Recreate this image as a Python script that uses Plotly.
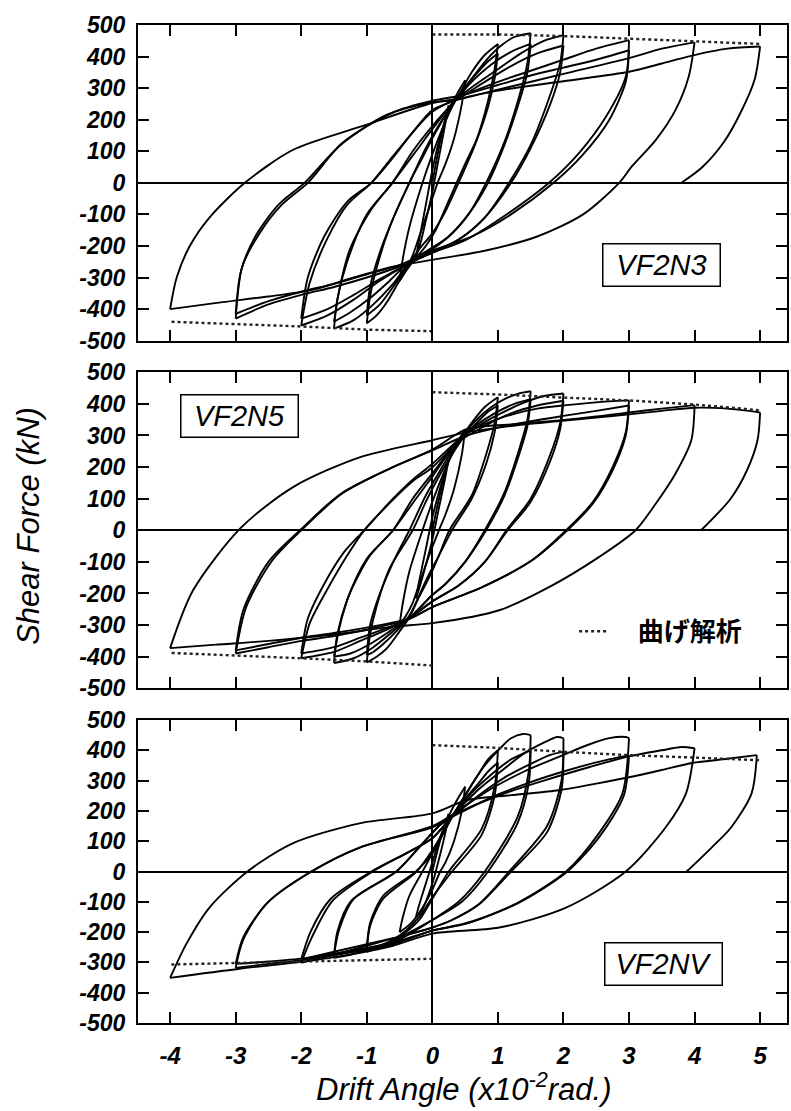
import plotly.graph_objects as go

# ---------------- axis ticks ----------------
X_TICKS = [-4, -3, -2, -1, 0, 1, 2, 3, 4, 5]
X_TICK_LABELS = ["-4", "-3", "-2", "-1", "0", "1", "2", "3", "4", "5"]
Y_TICKS = [500, 400, 300, 200, 100, 0, -100, -200, -300, -400, -500]
Y_TICK_LABELS = ["500", "400", "300", "200", "100", "0", "-100", "-200", "-300", "-400", "-500"]

SPECIMENS = ["VF2N3", "VF2N5", "VF2NV"]
LEGEND_LABEL = "曲げ解析"

# ---------------- VF2N3 : measured hysteresis (drift, shear), branches split by None ----------------
VF2N3_LOOP = [
    (0, 0), (0.08, 90), (0.17, 180), (0.25, 245), None,
    (0.25, 245), (0.2, 190), (0.1, 80), (0, -30), (-0.1, -120), (-0.18, -190), (-0.25, -235), None,
    (-0.25, -235), (-0.2, -180), (-0.1, -70), (0, 40), (0.1, 130), (0.2, 200), (0.3, 250), (0.4, 290), (0.5, 325), None,
    (0.5, 325), (0.45, 250), (0.33, 140), (0.2, 60), (0.08, 0), (-0.05, -80), (-0.2, -170), (-0.3, -230), (-0.4, -275), (-0.5, -310), None,
    (-0.5, -310), (-0.45, -240), (-0.35, -140), (-0.15, 0), (0, 90), (0.15, 170), (0.3, 240), (0.45, 295), (0.6, 350), (0.8, 405), (1.0, 440), None,
    (1.0, 440), (0.95, 360), (0.85, 260), (0.68, 140), (0.5, 60), (0.37, 0), (0.2, -80), (0.05, -150), (-0.1, -200), (-0.3, -250), (-0.5, -310), (-0.7, -380), (-0.85, -420), (-1.0, -445), None,
    (-1.0, -445), (-0.95, -360), (-0.85, -270), (-0.65, -140), (-0.35, 0), (-0.15, 80), (0.05, 160), (0.25, 230), (0.45, 290), (0.65, 340), (0.85, 385), (1.0, 410), None,
    (1.0, 410), (0.95, 330), (0.85, 240), (0.65, 120), (0.4, 0), (0.2, -90), (0, -160), (-0.2, -210), (-0.4, -270), (-0.6, -330), (-0.8, -385), (-1.0, -420), None,
    (-1.0, -420), (-0.95, -330), (-0.8, -220), (-0.55, -90), (-0.35, 0), (-0.1, 110), (0.15, 200), (0.35, 262), (0.6, 330), (0.85, 395), (1.05, 435), (1.25, 462), (1.5, 474), None,
    (1.5, 474), (1.45, 380), (1.32, 270), (1.1, 130), (0.82, 0), (0.55, -100), (0.25, -170), (0, -210), (-0.35, -255), (-0.6, -320), (-0.9, -385), (-1.2, -435), (-1.5, -462), None,
    (-1.5, -462), (-1.45, -370), (-1.3, -250), (-1.0, -100), (-0.61, 0), (-0.3, 100), (0, 180), (0.35, 262), (0.6, 320), (0.9, 375), (1.2, 415), (1.5, 440), None,
    (1.5, 440), (1.45, 350), (1.3, 240), (1.1, 120), (0.85, 0), (0.55, -100), (0.25, -170), (0, -205), (-0.35, -250), (-0.65, -310), (-0.95, -365), (-1.25, -410), (-1.5, -440), None,
    (-1.5, -440), (-1.42, -339), (-1.26, -212), (-0.95, -90), (-0.61, 0), (-0.25, 100), (0, 170), (0.35, 262), (0.65, 310), (1.0, 360), (1.35, 410), (1.7, 450), (2.0, 468), None,
    (2.0, 468), (1.95, 380), (1.8, 280), (1.5, 120), (1.17, 0), (0.8, -110), (0.4, -180), (0, -220), (-0.35, -255), (-0.8, -310), (-1.2, -370), (-1.6, -420), (-2.0, -452), None,
    (-2.0, -452), (-1.87, -316), (-1.61, -180), (-1.3, -70), (-0.93, 0), (-0.61, 82), (-0.3, 160), (0, 231), (0.35, 262), (0.8, 320), (1.2, 370), (1.6, 410), (2.0, 435), None,
    (2.0, 435), (1.95, 350), (1.8, 250), (1.5, 110), (1.2, 0), (0.8, -110), (0.4, -180), (0, -220), (-0.35, -255), (-0.8, -305), (-1.2, -355), (-1.6, -400), (-2.0, -430), None,
    (-2.0, -430), (-1.9, -300), (-1.65, -170), (-1.3, -60), (-0.93, 0), (-0.6, 80), (-0.3, 160), (0, 225), (0.4, 270), (1.0, 320), (1.5, 355), (2.0, 390), (2.5, 425), (3.0, 452), None,
    (3.0, 452), (2.95, 336), (2.65, 210), (2.24, 95), (1.78, 0), (1.17, -95), (0.52, -180), (0, -222), (-0.5, -265), (-1.0, -300), (-1.5, -330), (-2.0, -355), (-2.5, -385), (-3.0, -430), None,
    (-3.0, -430), (-2.9, -266), (-2.63, -158), (-2.3, -70), (-1.9, 0), (-1.37, 127), (-0.61, 222), (0, 260), (0.4, 275), (1.0, 310), (1.5, 340), (2.0, 365), (2.5, 390), (3.0, 420), None,
    (3.0, 420), (2.95, 320), (2.7, 200), (2.3, 90), (1.85, 0), (1.2, -100), (0.6, -170), (0, -215), (-0.5, -260), (-1.0, -290), (-1.5, -320), (-2.0, -345), (-2.5, -375), (-3.0, -415), None,
    (-3.0, -415), (-2.92, -280), (-2.7, -170), (-2.35, -70), (-1.95, 0), (-1.4, 120), (-0.7, 215), (0, 255), (0.35, 262), (1.0, 295), (2.0, 345), (3.0, 395), (3.5, 425), (4.0, 445), None,
    (4.0, 445), (3.91, 336), (3.71, 231), (3.41, 136), (3.04, 51), (2.85, 0), (2.3, -100), (1.6, -170), (0.8, -215), (0, -244), (-0.6, -266), (-1.2, -300), (-1.83, -339), (-2.5, -360), (-3.2, -378), (-4.0, -400), None,
    (-4.0, -400), (-3.9, -300), (-3.7, -200), (-3.4, -110), (-2.86, 0), (-2.13, 104), (-1.11, 177), (0, 253), (0.35, 265), (1.0, 292), (2.0, 322), (3.0, 352), (3.5, 378), (3.9, 400), (4.5, 425), (5.0, 432), None,
    (5.0, 432), (4.92, 330), (4.72, 230), (4.45, 130), (4.12, 50), (3.8, 0),
]
VF2N3_FLEX_POS = [(0, 470), (1, 470), (2, 465), (3, 457), (4, 450), (5, 440)]
VF2N3_FLEX_NEG = [(0, -470), (-1, -465), (-2, -455), (-3, -447), (-4, -440)]

# ---------------- VF2N5 ----------------
VF2N5_LOOP = [
    (0, 0), (0.08, 80), (0.17, 160), (0.25, 225), None,
    (0.25, 225), (0.2, 170), (0.1, 70), (0, -30), (-0.1, -110), (-0.18, -170), (-0.25, -215), None,
    (-0.25, -215), (-0.2, -160), (-0.1, -60), (0, 40), (0.1, 120), (0.2, 190), (0.3, 245), (0.4, 285), (0.5, 320), None,
    (0.5, 320), (0.45, 240), (0.33, 130), (0.2, 50), (0.1, 0), (-0.05, -80), (-0.2, -170), (-0.3, -230), (-0.4, -270), (-0.5, -300), None,
    (-0.5, -300), (-0.45, -230), (-0.35, -130), (-0.15, 0), (0, 90), (0.15, 170), (0.3, 240), (0.45, 295), (0.6, 340), (0.8, 390), (1.0, 421), None,
    (1.0, 421), (0.95, 340), (0.82, 240), (0.6, 110), (0.26, 0), (0.1, -80), (-0.05, -150), (-0.2, -210), (-0.35, -275), (-0.5, -320), (-0.7, -375), (-0.85, -400), (-1.0, -418), None,
    (-1.0, -418), (-0.95, -330), (-0.85, -240), (-0.65, -120), (-0.3, 0), (-0.1, 90), (0.1, 170), (0.3, 240), (0.5, 300), (0.7, 345), (0.85, 375), (1.0, 395), None,
    (1.0, 395), (0.95, 310), (0.82, 210), (0.6, 100), (0.3, 0), (0.1, -80), (-0.1, -160), (-0.35, -270), (-0.55, -320), (-0.75, -360), (-0.9, -385), (-1.0, -395), None,
    (-1.0, -395), (-0.95, -300), (-0.8, -200), (-0.55, -80), (-0.35, 0), (-0.1, 110), (0.15, 200), (0.4, 285), (0.65, 345), (0.9, 390), (1.1, 415), (1.3, 432), (1.5, 440), None,
    (1.5, 440), (1.45, 350), (1.3, 240), (1.1, 120), (0.8, 0), (0.5, -100), (0.2, -170), (0, -205), (-0.35, -278), (-0.6, -320), (-0.9, -370), (-1.2, -405), (-1.5, -420), None,
    (-1.5, -420), (-1.45, -330), (-1.3, -220), (-1.0, -90), (-0.6, 0), (-0.3, 100), (0, 180), (0.4, 285), (0.65, 330), (0.95, 370), (1.25, 400), (1.5, 415), None,
    (1.5, 415), (1.45, 330), (1.3, 225), (1.1, 110), (0.82, 0), (0.5, -100), (0.2, -170), (0, -205), (-0.35, -278), (-0.65, -320), (-0.95, -360), (-1.25, -390), (-1.5, -400), None,
    (-1.5, -400), (-1.42, -310), (-1.26, -200), (-0.95, -80), (-0.6, 0), (-0.25, 100), (0, 170), (0.4, 285), (0.7, 330), (1.0, 365), (1.35, 400), (1.7, 425), (2.0, 433), None,
    (2.0, 433), (1.95, 340), (1.8, 240), (1.5, 100), (1.13, 0), (0.8, -100), (0.4, -175), (0, -225), (-0.35, -278), (-0.7, -315), (-1.1, -350), (-1.5, -385), (-2.0, -405), None,
    (-2.0, -405), (-1.87, -294), (-1.61, -190), (-1.3, -80), (-1.04, 0), (-0.61, 95), (-0.3, 155), (0, 199), (0.4, 280), (0.8, 330), (1.2, 370), (1.6, 395), (2.0, 410), None,
    (2.0, 410), (1.95, 320), (1.8, 220), (1.5, 90), (1.15, 0), (0.8, -100), (0.4, -175), (0, -225), (-0.35, -278), (-0.7, -310), (-1.1, -340), (-1.5, -370), (-2.0, -390), None,
    (-2.0, -390), (-1.9, -280), (-1.65, -170), (-1.35, -70), (-1.04, 0), (-0.6, 100), (-0.3, 160), (0, 210), (0.52, 307), (0.9, 345), (1.28, 370), (1.6, 385), (2.04, 396), (2.5, 405), (3.0, 411), None,
    (3.0, 411), (2.95, 310), (2.75, 200), (2.45, 90), (2.04, 0), (1.52, -95), (0.76, -180), (0, -243), (-0.35, -280), (-0.8, -305), (-1.5, -335), (-2.0, -350), (-2.5, -370), (-3.0, -390), None,
    (-3.0, -390), (-2.84, -243), (-2.44, -95), (-2.0, 0), (-1.37, 117), (-0.61, 199), (0, 253), (0.52, 300), (1.0, 325), (1.5, 345), (2.0, 362), (2.5, 378), (3.0, 395), None,
    (3.0, 395), (2.95, 300), (2.75, 190), (2.45, 85), (2.06, 0), (1.52, -95), (0.76, -180), (0, -243), (-0.35, -280), (-0.8, -300), (-1.5, -325), (-2.0, -340), (-2.5, -360), (-3.0, -380), None,
    (-3.0, -380), (-2.88, -250), (-2.5, -100), (-2.02, 0), (-1.4, 115), (-0.6, 200), (0, 255), (0.52, 320), (1.2, 335), (1.93, 348), (2.5, 360), (3.0, 373), (3.5, 385), (4.0, 396), None,
    (4.0, 396), (3.95, 285), (3.71, 180), (3.41, 85), (3.1, 0), (2.54, -85), (1.78, -180), (1.02, -253), (0, -294), (-0.6, -305), (-1.5, -330), (-2.5, -350), (-3.3, -362), (-4.0, -373), None,
    (-4.0, -373), (-3.65, -190), (-2.93, 6), (-2.13, 136), (-1.11, 231), (0, 285), (0.52, 310), (1.2, 330), (1.9, 345), (2.5, 357), (3.0, 367), (3.5, 378), (4.0, 388), (4.5, 385), (5.0, 373), None,
    (5.0, 373), (4.96, 285), (4.8, 190), (4.55, 100), (4.1, 0),
]
VF2N5_FLEX_POS = [(0, 437), (1, 430), (2, 420), (3, 411), (4, 398), (5, 380)]
VF2N5_FLEX_NEG = [(0, -428), (-1, -415), (-2, -405), (-3, -397), (-4, -388)]

# ---------------- VF2NV ----------------
VF2NV_LOOP = [
    (0, 0), (0.08, 70), (0.17, 140), (0.25, 190), None,
    (0.25, 190), (0.2, 130), (0.1, 40), (0, -40), (-0.1, -100), (-0.18, -135), (-0.25, -150), None,
    (-0.25, -150), (-0.2, -110), (-0.1, -40), (0, 30), (0.1, 100), (0.2, 160), (0.3, 205), (0.4, 245), (0.5, 280), None,
    (0.5, 280), (0.45, 200), (0.33, 100), (0.2, 30), (0.12, 0), (0, -60), (-0.15, -120), (-0.3, -165), (-0.4, -185), (-0.5, -200), None,
    (-0.5, -200), (-0.45, -150), (-0.35, -80), (-0.15, 0), (0, 60), (0.15, 120), (0.3, 180), (0.5, 250), (0.7, 320), (0.85, 370), (1.0, 400), None,
    (1.0, 400), (0.95, 280), (0.75, 140), (0.25, 0), (0, -90), (-0.2, -160), (-0.4, -200), (-0.6, -230), (-0.8, -250), (-1.0, -265), None,
    (-1.0, -265), (-0.95, -180), (-0.75, -90), (-0.24, 0), (0, 70), (0.3, 180), (0.5, 240), (0.7, 290), (0.85, 330), (1.0, 360), None,
    (1.0, 360), (0.95, 250), (0.75, 120), (0.3, 0), (0, -85), (-0.2, -150), (-0.4, -195), (-0.6, -225), (-0.8, -245), (-1.0, -255), None,
    (-1.0, -255), (-0.95, -170), (-0.75, -80), (-0.25, 0), (0, 60), (0.3, 180), (0.55, 270), (0.8, 350), (1.05, 410), (1.2, 440), (1.38, 454), (1.5, 450), None,
    (1.5, 450), (1.47, 330), (1.3, 180), (0.8, 0), (0.4, -100), (0, -160), (-0.3, -200), (-0.6, -235), (-1.0, -260), (-1.25, -275), (-1.5, -285), None,
    (-1.5, -285), (-1.45, -200), (-1.25, -100), (-0.55, 0), (-0.2, 80), (0.1, 150), (0.3, 185), (0.6, 260), (0.9, 320), (1.2, 370), (1.5, 400), None,
    (1.5, 400), (1.47, 290), (1.3, 160), (0.85, 0), (0.45, -100), (0, -160), (-0.3, -195), (-0.6, -230), (-1.0, -255), (-1.25, -265), (-1.5, -275), None,
    (-1.5, -275), (-1.42, -190), (-1.2, -90), (-0.55, 0), (-0.2, 80), (0.1, 150), (0.3, 185), (0.7, 270), (1.1, 340), (1.4, 390), (1.7, 425), (1.9, 444), (2.0, 440), None,
    (2.0, 440), (1.97, 300), (1.75, 150), (1.17, 0), (0.7, -110), (0.3, -160), (0, -185), (-0.5, -215), (-1.0, -245), (-1.5, -275), (-2.0, -301), None,
    (-2.0, -301), (-1.84, -218), (-1.52, -96), (-0.91, 0), (-0.4, 60), (0, 110), (0.3, 180), (0.7, 250), (1.1, 310), (1.5, 355), (1.8, 385), (2.0, 395), None,
    (2.0, 395), (1.97, 270), (1.75, 130), (1.2, 0), (0.7, -110), (0.3, -160), (0, -185), (-0.5, -215), (-1.0, -240), (-1.5, -265), (-2.0, -290), None,
    (-2.0, -290), (-1.86, -200), (-1.55, -90), (-0.93, 0), (-0.4, 60), (0, 110), (0.3, 180), (0.8, 260), (1.4, 330), (2.0, 385), (2.4, 420), (2.7, 440), (2.95, 444), (3.0, 440), None,
    (3.0, 440), (2.9, 258), (2.54, 126), (2.04, 0), (1.28, -106), (0.52, -172), (0, -195), (-0.6, -240), (-1.2, -265), (-1.9, -290), (-2.5, -305), (-3.0, -318), None,
    (-3.0, -318), (-2.89, -228), (-2.53, -106), (-1.84, 0), (-1.11, 79), (0, 146), (0.3, 180), (0.9, 245), (1.5, 295), (2.0, 330), (2.5, 360), (3.0, 384), None,
    (3.0, 384), (2.92, 250), (2.55, 115), (2.06, 0), (1.3, -105), (0.52, -170), (0, -195), (-0.6, -235), (-1.2, -260), (-1.9, -285), (-2.5, -297), (-3.0, -305), None,
    (-3.0, -305), (-2.88, -215), (-2.5, -100), (-1.85, 0), (-1.1, 80), (0, 150), (0.3, 185), (1.0, 250), (1.7, 300), (2.4, 345), (3.0, 380), (3.5, 400), (3.8, 411), (4.0, 407), None,
    (4.0, 407), (3.87, 258), (3.56, 146), (2.95, 0), (2.04, -119), (1.02, -185), (0, -205), (-0.6, -245), (-1.2, -272), (-1.87, -295), (-2.94, -321), (-4.0, -351), None,
    (-4.0, -351), (-3.75, -238), (-3.4, -119), (-2.82, 0), (-2.13, 93), (-1.11, 159), (0, 192), (0.52, 235), (1.2, 252), (1.93, 268), (2.5, 290), (3.0, 311), (3.5, 335), (3.96, 358), (4.5, 372), (4.95, 384), None,
    (4.95, 384), (4.87, 258), (4.56, 146), (4.26, 79), (3.88, 0),
]
VF2NV_FLEX_POS = [(0, 417), (1, 408), (2, 395), (3, 384), (4, 376), (5, 367)]
VF2NV_FLEX_NEG = [(0, -288), (-1, -292), (-2, -297), (-3, -302), (-4, -307)]

LOOPS = [VF2N3_LOOP, VF2N5_LOOP, VF2NV_LOOP]
FLEX_POS = [VF2N3_FLEX_POS, VF2N5_FLEX_POS, VF2NV_FLEX_POS]
FLEX_NEG = [VF2N3_FLEX_NEG, VF2N5_FLEX_NEG, VF2NV_FLEX_NEG]

# label box anchor positions in data coordinates (drift, shear)
LABEL_POS = [(3.5, -260), (-2.94, 361), (3.53, -305)]


def split(pts):
    xs = [p[0] if p is not None else None for p in pts]
    ys = [p[1] if p is not None else None for p in pts]
    return xs, ys


FONT = "Liberation Sans, Arial, sans-serif"
DOMAINS = [[0.6837, 1.0], [0.3354, 0.652], [0.0, 0.3036]]
XRANGE = [-4.49, 5.41]

fig = go.Figure()
for i in range(3):
    sfx = "" if i == 0 else str(i + 1)
    xa, ya = "x" + sfx, "y" + sfx
    lx, ly = split(LOOPS[i])
    fig.add_trace(go.Scatter(x=lx, y=ly, mode="lines", xaxis=xa, yaxis=ya,
                             line=dict(color="black", width=1.9, shape="spline", smoothing=0.8),
                             showlegend=False, hoverinfo="skip"))
    for k, fl in enumerate([FLEX_POS[i], FLEX_NEG[i]]):
        fx, fy = split(fl)
        fig.add_trace(go.Scatter(x=fx, y=fy, mode="lines", xaxis=xa, yaxis=ya,
                                 line=dict(color="#222", width=2.4, dash="dot"),
                                 name="\u00a0\u00a0\u00a0\u00a0" + LEGEND_LABEL,
                                 showlegend=(i == 1 and k == 0), hoverinfo="skip"))

layout = dict(
    width=791, height=1111,
    margin=dict(l=138, r=2, t=25, b=88),
    paper_bgcolor="white", plot_bgcolor="white",
    showlegend=True,
    legend=dict(x=0.672, y=0.3924, xanchor="left", yanchor="middle",
                bgcolor="rgba(0,0,0,0)", borderwidth=0,
                font=dict(family="Noto Sans CJK JP", size=26, color="black", weight="bold")),
    annotations=[],
)
for i in range(3):
    sfx = "" if i == 0 else str(i + 1)
    layout["xaxis" + sfx] = dict(
        domain=[0, 1], range=XRANGE, anchor="y" + sfx,
        tickmode="array", tickvals=X_TICKS, ticktext=X_TICK_LABELS,
        ticks="inside", ticklen=11, tickwidth=2, tickcolor="black",
        showline=True, linecolor="black", linewidth=2, mirror="ticks",
        showgrid=False, zeroline=True, zerolinecolor="black", zerolinewidth=1.5,
        showticklabels=(i == 2), ticklabelstandoff=10,
        tickfont=dict(family=FONT, size=24, color="black", weight="bold", style="italic"),
    )
    layout["yaxis" + sfx] = dict(
        domain=DOMAINS[i], range=[-500, 500], anchor="x" + sfx,
        tickmode="array", tickvals=Y_TICKS, ticktext=Y_TICK_LABELS,
        ticks="inside", ticklen=11, tickwidth=2, tickcolor="black",
        showline=True, linecolor="black", linewidth=2, mirror="ticks",
        showgrid=False, zeroline=True, zerolinecolor="black", zerolinewidth=1.5,
        ticklabelstandoff=6,
        tickfont=dict(family=FONT, size=23, color="black", weight="bold", style="italic"),
    )
    lxp, lyp = LABEL_POS[i]
    layout["annotations"].append(dict(
        text=SPECIMENS[i], x=lxp, y=lyp, xref="x" + sfx, yref="y" + sfx,
        showarrow=False, bgcolor="white", bordercolor="black", borderwidth=1.5,
        borderpad=2, width=112, height=37,
        font=dict(family=FONT, size=29, color="black", style="italic")))

layout["annotations"].append(dict(
    text="Shear Force (kN)", x=-0.169, y=0.4985, xref="paper", yref="paper",
    textangle=-90, showarrow=False, xanchor="center", yanchor="middle",
    font=dict(family=FONT, size=31, color="black", style="italic")))
layout["annotations"].append(dict(
    text="Drift Angle (x10<sup>-2</sup>rad.)", x=0.503, y=-0.064, xref="paper", yref="paper",
    showarrow=False, xanchor="center", yanchor="middle",
    font=dict(family=FONT, size=31, color="black", style="italic")))

fig.update_layout(**layout)
fig.write_html("out.html",
               config={"displayModeBar": False},
               post_script="document.body.style.margin='0';document.body.style.overflow='hidden';")
